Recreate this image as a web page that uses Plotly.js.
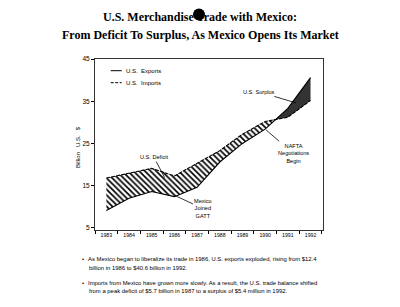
<!DOCTYPE html>
<html><head><meta charset="utf-8">
<script src="https://cdn.plot.ly/plotly-3.0.1.min.js"></script>
<style>html,body{margin:0;padding:0;background:#fff}#chart{width:400px;height:307px}</style>
</head><body><div id="chart"></div>
<script>
const years = [1983,1984,1985,1986,1987,1988,1989,1990,1991,1992];
const exportsUS = [9.1,12.0,13.6,12.4,14.6,20.6,25.0,28.4,33.3,40.6];
const importsUS = [16.8,18.0,19.1,17.3,20.3,23.3,27.2,30.2,31.2,35.2];
const yTicks = [5,15,25,35,45];

// find where exports overtake imports (linear interpolation between data points)
let k = exportsUS.findIndex((v,i)=> v > importsUS[i]);
const d0 = exportsUS[k-1]-importsUS[k-1], d1 = exportsUS[k]-importsUS[k];
const t = -d0/(d1-d0);
const xc = years[k-1] + t*(years[k]-years[k-1]);
const yc = exportsUS[k-1] + t*(exportsUS[k]-exportsUS[k-1]);

const defX = years.slice(0,k).concat([xc]);
const defExp = exportsUS.slice(0,k).concat([yc]);
const defImp = importsUS.slice(0,k).concat([yc]);
const surX = [xc].concat(years.slice(k));
const surExp = [yc].concat(exportsUS.slice(k));
const surImp = [yc].concat(importsUS.slice(k));

const traces = [
  {x:defX, y:defExp, mode:'lines', line:{width:0}, showlegend:false, hoverinfo:'skip'},
  {x:defX, y:defImp, mode:'lines', line:{width:0}, fill:'tonexty',
   fillpattern:{shape:'\\', size:4, solidity:0.42, fgcolor:'#000', bgcolor:'#fff', fillmode:'replace'},
   showlegend:false, hoverinfo:'skip'},
  {x:surX, y:surImp, mode:'lines', line:{width:0}, showlegend:false, hoverinfo:'skip'},
  {x:surX, y:surExp, mode:'lines', line:{width:0}, fill:'tonexty', fillcolor:'#333', showlegend:false, hoverinfo:'skip'},
  {x:years, y:importsUS, mode:'lines', name:'U.S.  Imports', line:{color:'#000', width:1.1, dash:'4px,1px'}, showlegend:false},
  {x:years, y:exportsUS, mode:'lines', name:'U.S.  Exports', line:{color:'#000', width:1.1}, showlegend:false}
];

const px = v => (v-95)/228, py = v => (230-v)/171;
const small = {family:'Liberation Sans, Arial, sans-serif', size:5.6, color:'#000'};
const bodyFont = {family:'Liberation Sans, Arial, sans-serif', size:5.9, color:'#000'};
const titleFont = {family:'Liberation Serif, Times New Roman, serif', size:12, color:'#000'};

const annotations = [
  {x:1985.57, y:16.9, ax:1985.09, ay:21.8, axref:'x', ayref:'y', text:'U.S. Deficit', showarrow:true, arrowhead:0, arrowwidth:0.8, arrowcolor:'#000', font:small, standoff:0},
  {x:1986.05, y:12.6, ax:1987.28, ay:9.5, axref:'x', ayref:'y', text:'Mexico<br>Joined<br>GATT', showarrow:true, arrowhead:0, arrowwidth:0.8, arrowcolor:'#000', font:small, standoff:0},
  {x:1991.36, y:34.6, ax:1989.74, ay:37.2, axref:'x', ayref:'y', text:'U.S. Surplus', showarrow:true, arrowhead:0, arrowwidth:0.8, arrowcolor:'#000', font:small, standoff:0},
  {x:1990.04, y:28.2, ax:1991.23, ay:22.7, axref:'x', ayref:'y', text:'NAFTA<br>Negotiations<br>Begin', showarrow:true, arrowhead:0, arrowwidth:0.8, arrowcolor:'#000', font:small, standoff:0},
  // second title line
  {xref:'paper', yref:'paper', x:px(200), y:py(35), xanchor:'center', yanchor:'middle', text:'<b>From Deficit To Surplus, As Mexico Opens Its Market</b>', showarrow:false, font:titleFont},
  // legend text
  {xref:'paper', yref:'paper', x:px(124), y:py(70.7), xanchor:'left', yanchor:'middle', text:'U.S.  Exports', showarrow:false, font:{family:'Liberation Sans, Arial, sans-serif', size:6, color:'#000'}},
  {xref:'paper', yref:'paper', x:px(124), y:py(82.7), xanchor:'left', yanchor:'middle', text:'U.S.  Imports', showarrow:false, font:{family:'Liberation Sans, Arial, sans-serif', size:6, color:'#000'}},
  // y-axis title
  {xref:'paper', yref:'paper', x:px(73), y:py(147), text:'Billion   U.S.   $', textangle:-90, showarrow:false, font:{family:'Liberation Sans, Arial, sans-serif', size:6, color:'#000'}},
  // bullets
  {xref:'paper', yref:'paper', x:px(80), y:py(259), xanchor:'left', yanchor:'middle', text:'•', showarrow:false, font:bodyFont},
  {xref:'paper', yref:'paper', x:px(85.5), y:py(259), xanchor:'left', yanchor:'middle', text:'As Mexico began to liberalize its trade in 1986, U.S. exports exploded, rising from $12.4', showarrow:false, font:bodyFont},
  {xref:'paper', yref:'paper', x:px(87), y:py(268), xanchor:'left', yanchor:'middle', text:'billion in 1986 to $40.6 billion in 1992.', showarrow:false, font:bodyFont},
  {xref:'paper', yref:'paper', x:px(80), y:py(282.7), xanchor:'left', yanchor:'middle', text:'•', showarrow:false, font:bodyFont},
  {xref:'paper', yref:'paper', x:px(85.5), y:py(282.7), xanchor:'left', yanchor:'middle', text:'Imports from Mexico have grown more slowly. As a result, the U.S. trade balance shifted', showarrow:false, font:bodyFont},
  {xref:'paper', yref:'paper', x:px(87), y:py(290.7), xanchor:'left', yanchor:'middle', text:'from a peak deficit of $5.7 billion in 1987 to a surplus of $5.4 million in 1992.', showarrow:false, font:bodyFont}
];

const shapes = [
  {type:'line', xref:'paper', yref:'paper', x0:px(110.7), x1:px(121.7), y0:py(70.7), y1:py(70.7), line:{color:'#000', width:1}},
  {type:'line', xref:'paper', yref:'paper', x0:px(110.7), x1:px(121.7), y0:py(82.7), y1:py(82.7), line:{color:'#000', width:1, dash:'3px,1.5px'}},
  {type:'circle', xref:'paper', yref:'paper', x0:px(193), x1:px(205), y0:py(20.5), y1:py(8.5), fillcolor:'#000', line:{width:0}}
];

const layout = {
  width:400, height:307,
  margin:{l:95, r:77, t:59, b:77},
  paper_bgcolor:'#fff', plot_bgcolor:'#fff',
  showlegend:false,
  title:{text:'<b>U.S. Merchandise Trade with Mexico:</b>', font:titleFont,
         x:0.5, xanchor:'center', y:1-17/307, yanchor:'middle'},
  xaxis:{range:[1982.5,1992.55], tickvals:years, ticktext:years.map(String), ticks:'', showgrid:false, zeroline:false,
         showline:true, mirror:true, linecolor:'#333', linewidth:1,
         tickfont:{family:'Liberation Sans, Arial, sans-serif', size:5.2, color:'#000'},
         minor:{tick0:1982.5, dtick:1, ticks:'outside', ticklen:3, tickcolor:'#000', showgrid:false}},
  yaxis:{range:[4.5,45], tickvals:yTicks, ticks:'outside', ticklen:3, tickcolor:'#000', showgrid:false, zeroline:false,
         showline:true, mirror:true, linecolor:'#333', linewidth:1,
         tickfont:{family:'Liberation Sans, Arial, sans-serif', size:6.5, color:'#000'}},
  annotations, shapes
};

Plotly.newPlot('chart', traces, layout, {staticPlot:true, displayModeBar:false});
</script></body></html>
